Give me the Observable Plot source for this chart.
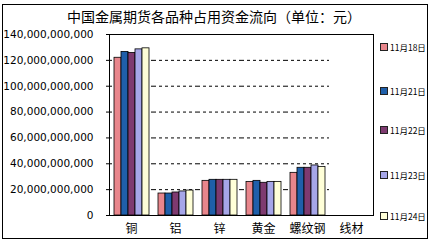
<!DOCTYPE html>
<html><head><meta charset="utf-8">
<script src="https://cdn.jsdelivr.net/npm/d3@7"></script>
<script src="https://cdn.jsdelivr.net/npm/@observablehq/plot@0.6"></script>
<style>
html,body{margin:0;padding:0;background:#fff;}
#wrap{position:relative;width:432px;height:245px;overflow:hidden;font-family:"Noto Sans CJK SC",sans-serif;}
#border{position:absolute;left:2px;top:4px;width:426px;height:235px;border:1px solid #000;box-sizing:border-box;}
#title{position:absolute;left:0;top:6px;width:428px;text-align:center;font-size:14px;color:#000;line-height:20px;}
#chart{position:absolute;left:0;top:0;}
#legend{position:absolute;left:380px;top:0;font-size:8.5px;color:#000;}
.li{position:absolute;left:0;white-space:nowrap;display:flex;align-items:center;line-height:10px;}
.sw{display:inline-block;width:6px;height:6px;border:1px solid #222;margin-right:2px;}
</style></head>
<body><div id="wrap"><div id="border"></div><div id="title">中国金属期货各品种占用资金流向（单位：元）</div><div id="chart"></div><div id="legend"></div></div>
<script>
const categories = ["铜","铝","锌","黄金","螺纹钢","线材"];
const dates = ["11月18日","11月21日","11月22日","11月23日","11月24日"];
const colors = ["#E8868C","#1F5FAA","#7E3A70","#A6A6E8","#FFFFD8"];
// values in yuan, per category, per date
const v1118 = [122.0e9, 17.0e9, 26.8e9, 26.0e9, 33.0e9, 0];
const v1121 = [126.5e9, 17.0e9, 27.6e9, 26.8e9, 36.9e9, 0];
const v1122 = [125.7e9, 17.8e9, 27.6e9, 25.3e9, 36.9e9, 0];
const v1123 = [128.5e9, 18.6e9, 27.6e9, 26.0e9, 38.7e9, 0];
const v1124 = [129.3e9, 19.3e9, 27.6e9, 26.0e9, 37.6e9, 0];
const yTicks = [0,20e9,40e9,60e9,80e9,100e9,120e9,140e9];
const gridTicks = [20e9,40e9,60e9,80e9,100e9,120e9];

const series = [v1118,v1121,v1122,v1123,v1124];
const rows = [];
categories.forEach((c,i)=>series.forEach((s,j)=>{ if (s[i] > 0) rows.push({cat:c, date:dates[j], value:s[i]}); }));

const fmt = d3.format(",");
const plot = Plot.plot({
  width: 432, height: 245,
  marginTop: 34, marginBottom: 30, marginLeft: 109, marginRight: 59,
  style: {fontFamily: "DejaVu Sans, sans-serif", fontSize: "10.5px", background: "transparent", color: "#000"},
  fx: {domain: categories, padding: 0, label: null, axis: null},
  x: {domain: dates, paddingInner: 0, paddingOuter: 0.55, axis: null},
  y: {domain: [0, 140e9], ticks: yTicks, label: null},
  color: {domain: dates, range: colors},
  marks: [
    Plot.ruleY(gridTicks, {stroke: "#000", strokeDasharray: "3,3", strokeWidth: 1}),
    Plot.barY(rows, {fx: "cat", x: "date", y: "value", fill: "date", stroke: "#000", strokeWidth: 0.8, inset: 0}),
    Plot.axisY({ticks: yTicks, tickFormat: fmt, tickSize: 3, tickPadding: 13, label: null, fontSize: 10.5}),
    Plot.axisFx({anchor: "bottom", domain: categories, tickSize: 0, tickPadding: 9, label: null, fontSize: 12, fontFamily: "Noto Sans CJK SC"}),
    Plot.frame({facet: "super", stroke: "#000"})
  ]
});
document.getElementById("chart").appendChild(plot);

const leg = document.getElementById("legend");
const legY = [42, 86, 125, 170, 211];
dates.forEach((d,i)=>{
  const el = document.createElement("div");
  el.className = "li";
  el.style.top = legY[i] + "px";
  el.innerHTML = `<span class="sw" style="background:${colors[i]}"></span>${d}`;
  leg.appendChild(el);
});
</script></body></html>
